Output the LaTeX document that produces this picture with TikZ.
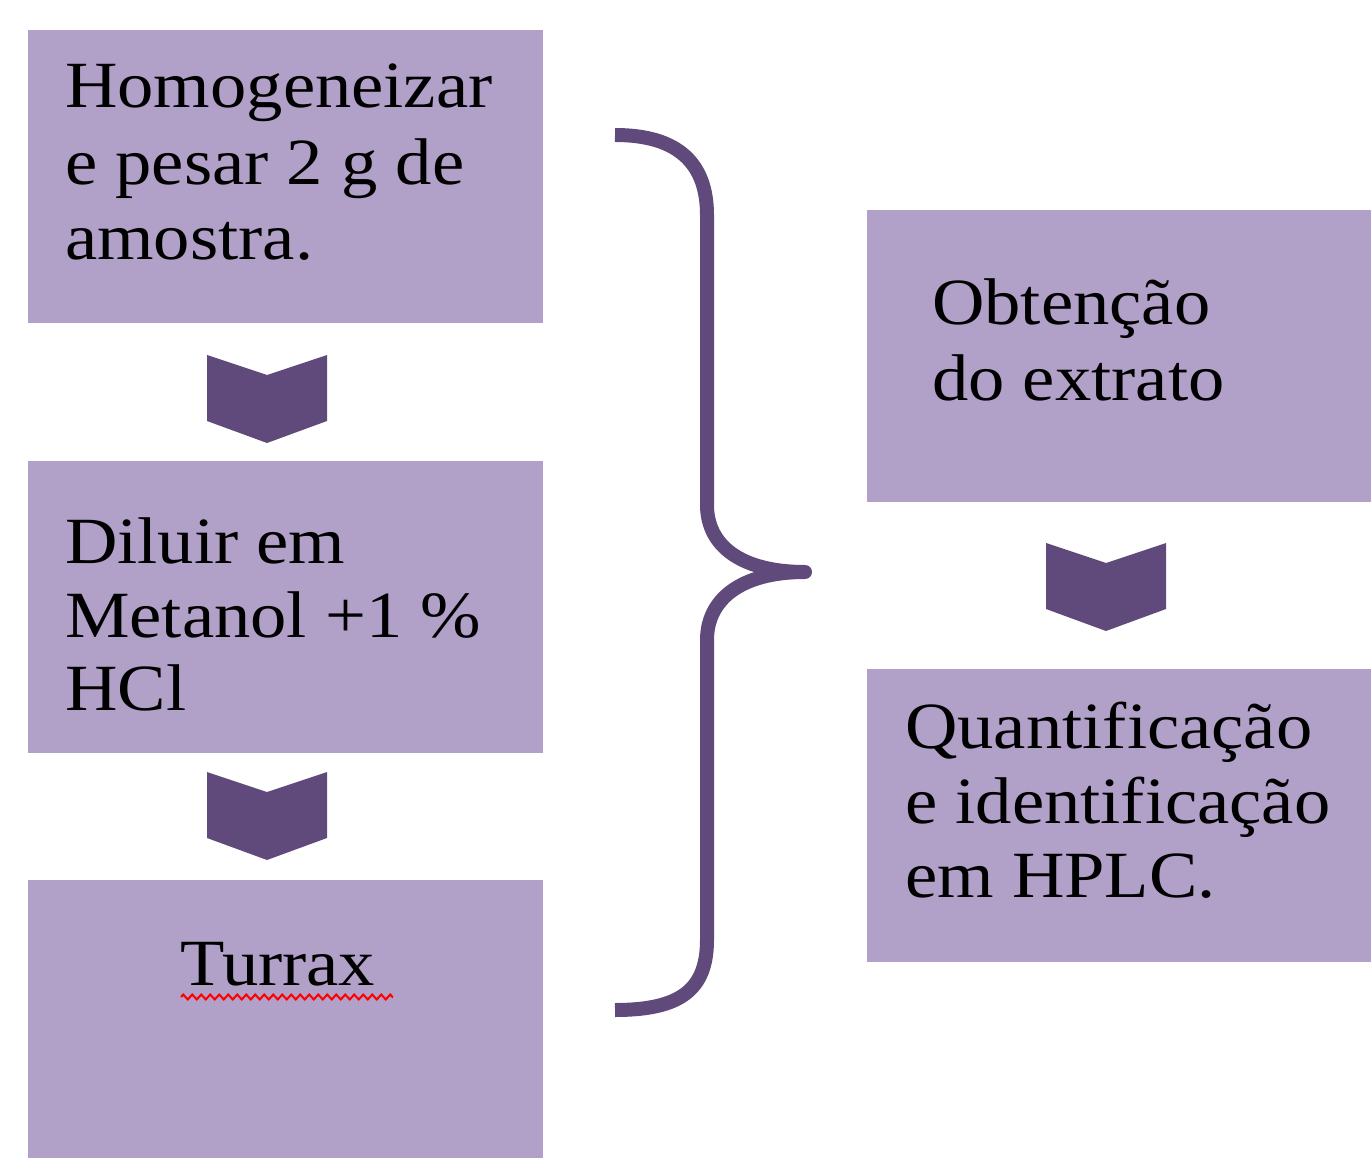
\documentclass[tikz,border=0pt]{standalone}
\usepackage{fontspec}
\setmainfont[FakeStretch=1.1]{Liberation Serif}
\usetikzlibrary{decorations.pathmorphing}
\definecolor{boxfill}{HTML}{B1A0C7}
\definecolor{darkpurple}{HTML}{604A7B}
\tikzset{
  stepbox/.style={fill=boxfill, draw=none},
  chev/.style={fill=darkpurple, draw=none},
  boxtext/.style={anchor=base west, inner sep=0pt, align=left, font=\fontsize{66}{75}\selectfont},
}
\begin{document}
\begin{tikzpicture}[x=1pt,y=-1pt]
\useasboundingbox (0,0) rectangle (1371,1158);
% boxes
\path[stepbox] (28,30) rectangle (543,323) coordinate (b1);
\path[stepbox] (28,461) rectangle (543,753);
\path[stepbox] (28,880) rectangle (543,1158);
\path[stepbox] (867,210) rectangle (1371,502);
\path[stepbox] (867,669) rectangle (1371,962);
% chevrons
\foreach \cx/\t in {267/355, 267/772, 1106/543}{
  \fill[chev] (\cx-60,\t) -- (\cx,\t+20) -- (\cx+60,\t) -- (\cx+60,\t+66) -- (\cx,\t+88) -- (\cx-60,\t+66) -- cycle;
}
% brace
\draw[darkpurple, line width=14pt, line join=round]
  (615,135) .. controls (680,135) and (707,165) .. (707,215)
  -- (707,505) .. controls (707,545) and (740,572) .. (805,572)
  .. controls (740,572) and (707,600) .. (707,640)
  -- (707,940) .. controls (707,990) and (680,1010) .. (615,1010);
% texts
\node[boxtext] (t1) at (65,108) {Homogeneizar};
\node[boxtext] (t1b) at (65,185) {e pesar 2 g de};
\node[boxtext] (t1c) at (65,260) {amostra.};
\node[boxtext] (t2) at (65,563) {Diluir em};
\node[boxtext] (t2b) at (65,637) {Metanol +1 \%};
\node[boxtext] (t2c) at (65,710) {HCl};
\node[boxtext] (t3) at (180,985) {Turrax};
\node[boxtext] (t4) at (932,325) {Obtenção};
\node[boxtext] (t4b) at (932,400) {do extrato};
\node[boxtext] (t5) at (905,748) {Quantificação};
\node[boxtext] (t5b) at (905,823) {e identificação};
\node[boxtext] (t5c) at (905,897) {em HPLC.};
% spell-check squiggle
\draw[red, line width=2pt, decorate, decoration={zigzag, amplitude=2.5pt, segment length=9pt}] (181,997) -- (393,997);
\end{tikzpicture}
\end{document}
